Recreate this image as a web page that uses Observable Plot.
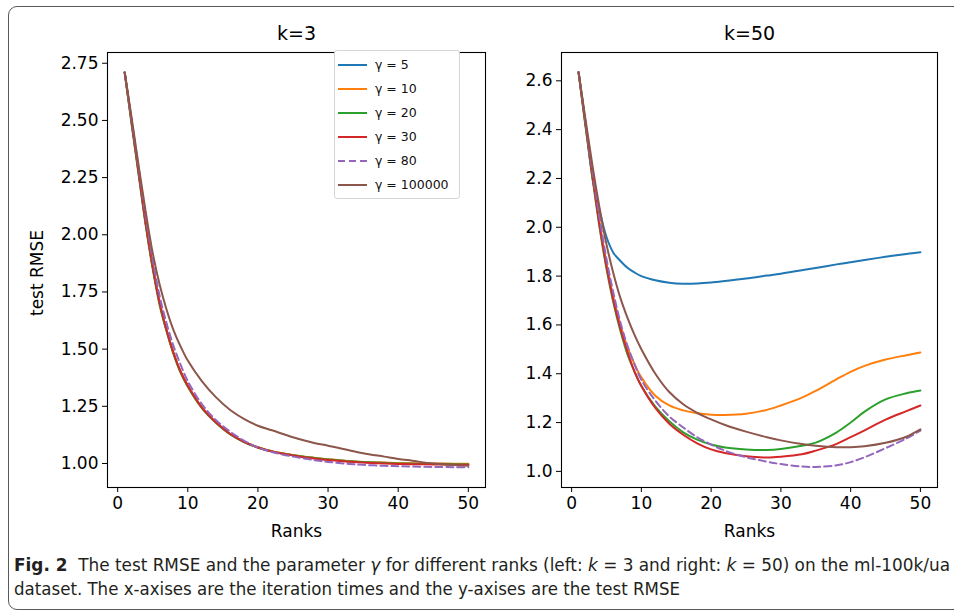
<!DOCTYPE html>
<html><head><meta charset="utf-8">
<script src="https://cdn.jsdelivr.net/npm/d3@7"></script>
<script src="https://cdn.jsdelivr.net/npm/@observablehq/plot@0.6"></script>
<style>
body{margin:0;background:#fff;}
#wrap{position:relative;width:954px;height:614px;overflow:hidden;font-family:"DejaVu Sans",sans-serif;background:#fff;}
#border{position:absolute;left:8px;top:6px;width:990px;height:604px;border:1.5px solid #5a5a5a;border-radius:9px;box-sizing:border-box;}
#left{position:absolute;left:0;top:0;}
#right{position:absolute;left:500px;top:0;}
#legend{position:absolute;left:334px;top:50px;width:126px;height:149px;background:#fff;border:1px solid #d6d6d6;border-radius:3px;box-sizing:border-box;}
.lrow{position:absolute;left:0;height:20px;width:124px;}
.lrow svg{position:absolute;left:2px;top:4px;}
.lrow span{position:absolute;left:40px;top:2px;font-size:12.5px;color:#111;white-space:nowrap;}
#cap{position:absolute;left:0;top:540px;}
#cap text{font-family:"DejaVu Sans Condensed","Liberation Sans Narrow","Open Sans",sans-serif;font-size:17.5px;fill:#231f20;}
</style></head><body>
<div id="wrap">
  <div id="border"></div>
  <div id="left"></div>
  <div id="right"></div>
  <div id="legend"></div>
  <svg id="cap" width="954" height="74">
    <text x="14" y="31" textLength="936" lengthAdjust="spacingAndGlyphs" xml:space="preserve"><tspan font-weight="bold">Fig. 2</tspan>  The test RMSE and the parameter <tspan font-style="italic">γ</tspan> for different ranks (left: <tspan font-style="italic">k</tspan> = 3 and right: <tspan font-style="italic">k</tspan> = 50) on the ml-100k/ua</text>
    <text x="14" y="55" textLength="666" lengthAdjust="spacingAndGlyphs">dataset. The x-axises are the iteration times and the y-axises are the test RMSE</text>
  </svg>
</div>
<script>
// ---- data ----
const ranks = [1,2,3,4,5,6,7,8,9,10,12,14,16,18,20,22,25,28,30,33,35,38,40,42,45,48,50];
const gammaLabels = ["γ = 5","γ = 10","γ = 20","γ = 30","γ = 80","γ = 100000"];
const seriesColors = ["#1f77b4","#ff7f0e","#2ca02c","#d62728","#9467bd","#8c564b"];
const xTicks = [0,10,20,30,40,50];
const yTicksK3 = [1.00,1.25,1.50,1.75,2.00,2.25,2.50,2.75];
const yTicksK50 = [1.0,1.2,1.4,1.6,1.8,2.0,2.2,2.4,2.6];
const titles = ["k=3","k=50"];

// k = 3
const k3_g5      = [2.71,2.49,2.27,2.05,1.86,1.70,1.58,1.48,1.40,1.34,1.245,1.18,1.13,1.095,1.07,1.053,1.036,1.024,1.017,1.01,1.006,1.003,1.001,1.0,0.999,0.998,0.998];
const k3_g10     = [2.71,2.49,2.27,2.05,1.86,1.70,1.58,1.48,1.40,1.34,1.245,1.18,1.13,1.096,1.071,1.054,1.037,1.025,1.018,1.011,1.007,1.004,1.002,1.001,1.0,0.999,0.999];
const k3_g20     = [2.71,2.48,2.26,2.04,1.85,1.69,1.575,1.475,1.395,1.335,1.242,1.178,1.128,1.094,1.07,1.053,1.036,1.024,1.017,1.01,1.006,1.002,1.0,0.999,0.998,0.997,0.996];
const k3_g30     = [2.71,2.49,2.27,2.05,1.86,1.70,1.58,1.48,1.40,1.34,1.245,1.18,1.13,1.095,1.07,1.052,1.035,1.022,1.015,1.008,1.004,1.0,0.998,0.997,0.996,0.995,0.994];
const k3_g80     = [2.71,2.50,2.29,2.08,1.89,1.73,1.61,1.51,1.43,1.36,1.26,1.19,1.14,1.10,1.07,1.05,1.03,1.015,1.007,0.998,0.994,0.99,0.988,0.987,0.985,0.984,0.983];
const k3_g100000 = [2.71,2.51,2.30,2.10,1.92,1.78,1.67,1.58,1.51,1.45,1.36,1.29,1.235,1.195,1.165,1.145,1.115,1.09,1.078,1.058,1.045,1.03,1.02,1.012,1.0,0.993,0.99];

// k = 50
const k50_g5      = [2.635,2.425,2.20,2.07,1.96,1.895,1.862,1.834,1.815,1.80,1.783,1.773,1.769,1.77,1.774,1.78,1.79,1.802,1.81,1.824,1.833,1.848,1.857,1.866,1.879,1.891,1.898];
const k50_g10     = [2.635,2.42,2.21,2.02,1.85,1.71,1.60,1.51,1.44,1.385,1.31,1.27,1.25,1.238,1.232,1.231,1.236,1.252,1.27,1.302,1.33,1.378,1.408,1.432,1.458,1.476,1.487];
const k50_g20     = [2.635,2.41,2.20,2.0,1.83,1.69,1.575,1.48,1.41,1.35,1.265,1.205,1.16,1.13,1.11,1.098,1.09,1.088,1.092,1.105,1.118,1.16,1.20,1.245,1.295,1.32,1.331];
const k50_g30     = [2.635,2.42,2.21,2.01,1.84,1.70,1.585,1.49,1.41,1.35,1.26,1.195,1.15,1.115,1.09,1.075,1.062,1.057,1.06,1.07,1.085,1.113,1.14,1.168,1.212,1.247,1.27];
const k50_g80     = [2.635,2.43,2.23,2.04,1.87,1.73,1.61,1.515,1.44,1.375,1.29,1.225,1.18,1.14,1.11,1.085,1.058,1.04,1.03,1.02,1.018,1.025,1.038,1.058,1.095,1.135,1.167];
const k50_g100000 = [2.635,2.44,2.25,2.08,1.93,1.81,1.71,1.63,1.56,1.50,1.40,1.325,1.275,1.24,1.213,1.19,1.163,1.14,1.127,1.112,1.105,1.099,1.099,1.103,1.117,1.142,1.172];

const k3Series = [k3_g5,k3_g10,k3_g20,k3_g30,k3_g80,k3_g100000];
const k50Series = [k50_g5,k50_g10,k50_g20,k50_g30,k50_g80,k50_g100000];

function toRows(vals, i){ return vals.map((v,j)=>({rank: ranks[j], rmse: v, gamma: gammaLabels[i]})); }

function lineMarks(seriesList){
  return seriesList.map((vals,i)=>Plot.line(toRows(vals,i), {
    x:"rank", y:"rmse", stroke:"gamma", strokeWidth:2,
    strokeDasharray: i===4 ? "7,4" : null, curve:"catmull-rom"
  }));
}

const common = {
  height:545, marginTop:52, marginBottom:58,
  x:{domain:[-1.45,52.45]},
  color:{domain:gammaLabels, range:seriesColors},
  style:{fontFamily:"DejaVu Sans, sans-serif", fontSize:"17px", color:"#000", background:"transparent", overflow:"visible"}
};

const left = Plot.plot({
  ...common, width:500, marginLeft:107, marginRight:15,
  y:{domain:[0.895,2.797]},
  marks:[
    Plot.axisX({ticks:xTicks, tickSize:5, tickPadding:4, label:null}),
    Plot.axisY({ticks:yTicksK3, tickFormat:d3.format(".2f"), tickSize:5, tickPadding:4, label:null}),
    ...lineMarks(k3Series),
    Plot.frame({stroke:"#000", strokeWidth:1.1}),
    Plot.text([titles[0]], {text:d=>d, frameAnchor:"top", lineAnchor:"middle", dy:-19, fontSize:19}),
    Plot.text(["test RMSE"], {text:d=>d, frameAnchor:"left", textAnchor:"middle", lineAnchor:"middle", dx:-70, dy:3, rotate:-90, fontSize:17}),
    Plot.text(["Ranks"], {text:d=>d, frameAnchor:"bottom", lineAnchor:"middle", dy:44, fontSize:17})
  ]
});
document.getElementById("left").appendChild(left);

const right = Plot.plot({
  ...common, width:454, marginLeft:61, marginRight:17,
  y:{domain:[0.934,2.716]},
  marks:[
    Plot.axisX({ticks:xTicks, tickSize:5, tickPadding:4, label:null}),
    Plot.axisY({ticks:yTicksK50, tickFormat:d3.format(".1f"), tickSize:5, tickPadding:4, label:null}),
    ...lineMarks(k50Series),
    Plot.frame({stroke:"#000", strokeWidth:1.1}),
    Plot.text([titles[1]], {text:d=>d, frameAnchor:"top", lineAnchor:"middle", dy:-19, fontSize:19}),
    Plot.text(["Ranks"], {text:d=>d, frameAnchor:"bottom", lineAnchor:"middle", dy:44, fontSize:17})
  ]
});
document.getElementById("right").appendChild(right);

// legend
const leg = document.getElementById("legend");
gammaLabels.forEach((g,i)=>{
  const row = document.createElement("div");
  row.className = "lrow";
  row.style.top = (4 + 24*i) + "px";
  const dash = i===4 ? ' stroke-dasharray="7,4"' : '';
  row.innerHTML = `<svg width="32" height="12"><line x1="1" x2="30" y1="6" y2="6" stroke="${seriesColors[i]}" stroke-width="2"${dash}/></svg><span>${g}</span>`;
  leg.appendChild(row);
});
</script>
</body></html>
